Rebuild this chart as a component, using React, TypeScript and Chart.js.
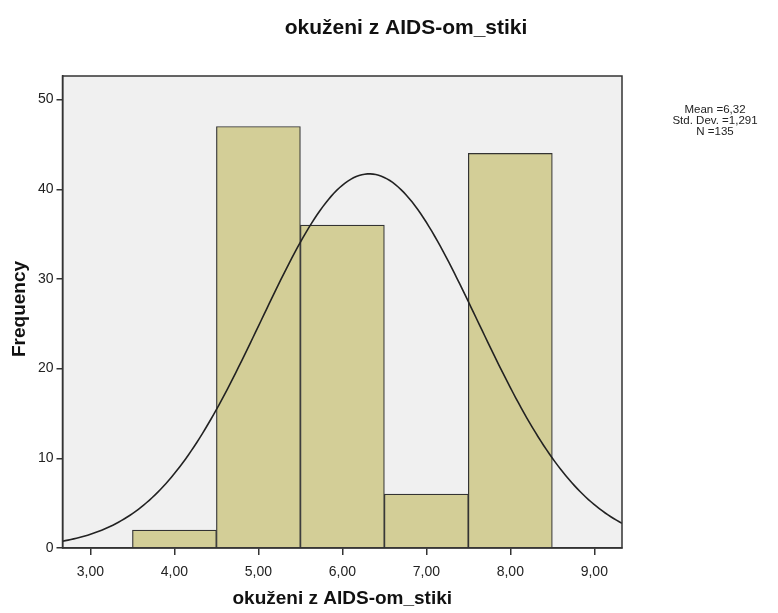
import React, { useEffect, useRef } from "react";
import { Chart, registerables } from "chart.js";

Chart.register(...registerables);

const chartTitle = "okuženi z AIDS-om_stiki";
const xAxisTitle = "okuženi z AIDS-om_stiki";
const yAxisTitle = "Frequency";
const binCenters = [4, 5, 6, 7, 8];
const frequencies = [2, 47, 36, 6, 44];
const xTicks = [3, 4, 5, 6, 7, 8, 9];
const yTicks = [0, 10, 20, 30, 40, 50];
const statsMean = 6.32;
const statsSd = 1.291;
const statsN = 135;
const statsLines = ["Mean =6,32", "Std. Dev. =1,291", "N =135"];
const xMin = 2.667;
const xMax = 9.33;
const yMax = 52.63;

const FONT = "'Liberation Sans', Arial, sans-serif";

function normalCurve() {
  const pts: { x: number; y: number }[] = [];
  const k = statsN / (statsSd * Math.sqrt(2 * Math.PI));
  for (let i = 0; i <= 200; i++) {
    const x = xMin + ((xMax - xMin) * i) / 200;
    const z = (x - statsMean) / statsSd;
    pts.push({ x, y: k * Math.exp(-0.5 * z * z) });
  }
  return pts;
}

const decorPlugin = {
  id: "decor",
  beforeDraw(chart: any) {
    const { ctx, chartArea: a, width, height } = chart;
    ctx.save();
    ctx.fillStyle = "#ffffff";
    ctx.fillRect(0, 0, width, height);
    ctx.fillStyle = "#f0f0f0";
    ctx.fillRect(a.left, a.top, a.right - a.left, a.bottom - a.top);
    ctx.restore();
  },
  afterDraw(chart: any) {
    const { ctx, chartArea: a } = chart;
    ctx.save();
    ctx.strokeStyle = "#333333";
    ctx.lineWidth = 1.5;
    ctx.strokeRect(a.left, a.top, a.right - a.left, a.bottom - a.top);
    ctx.fillStyle = "#111111";
    ctx.textAlign = "center";
    ctx.textBaseline = "middle";
    ctx.font = `bold 21px ${FONT}`;
    ctx.fillText(chartTitle, 406, 28);
    ctx.font = `bold 19px ${FONT}`;
    ctx.fillText(xAxisTitle, (a.left + a.right) / 2, 599);
    ctx.save();
    ctx.translate(20, 309);
    ctx.rotate(-Math.PI / 2);
    ctx.fillText(yAxisTitle, 0, 0);
    ctx.restore();
    ctx.font = `11.5px ${FONT}`;
    ctx.fillStyle = "#222222";
    statsLines.forEach((s, i) => ctx.fillText(s, 715, 110 + i * 11));
    ctx.restore();
  },
};

export default function App() {
  const ref = useRef<HTMLCanvasElement>(null);
  useEffect(() => {
    if (!ref.current) return;
    const chart = new Chart(ref.current, {
      type: "bar",
      data: {
        datasets: [
          {
            type: "line",
            data: normalCurve(),
            borderColor: "#222222",
            borderWidth: 1.6,
            pointRadius: 0,
            fill: false,
            tension: 0,
            order: 0,
          } as any,
          {
            type: "bar",
            data: binCenters.map((x, i) => ({ x, y: frequencies[i] })),
            backgroundColor: "#d3ce97",
            borderColor: "#333333",
            borderWidth: 1.2,
            barPercentage: 1,
            categoryPercentage: 1,
            order: 1,
          } as any,
        ],
      },
      plugins: [decorPlugin],
      options: {
        animation: false,
        responsive: false,
        layout: { padding: { left: 0, top: 76, right: 156, bottom: 0 } },
        plugins: { legend: { display: false }, tooltip: { enabled: false }, title: { display: false } },
        scales: {
          x: {
            type: "linear",
            min: xMin,
            max: xMax,
            offset: false,
            afterBuildTicks: (s: any) => {
              s.ticks = xTicks.map((v) => ({ value: v }));
            },
            afterFit: (s: any) => {
              s.height = 65;
            },
            grid: { drawOnChartArea: false, drawTicks: true, tickLength: 7, color: "#333333", offset: false, lineWidth: 1.5 },
            border: { display: true, color: "#333333", width: 1.5 },
            ticks: {
              padding: 9,
              color: "#222222",
              font: { family: FONT, size: 14 },
              maxRotation: 0,
              callback: (v: any) => Number(v).toFixed(2).replace(".", ","),
            },
          },
          y: {
            type: "linear",
            min: 0,
            max: yMax,
            afterBuildTicks: (s: any) => {
              s.ticks = yTicks.map((v) => ({ value: v }));
            },
            afterFit: (s: any) => {
              s.width = 62.5;
            },
            grid: { drawOnChartArea: false, drawTicks: true, tickLength: 6, color: "#333333", lineWidth: 1.5 },
            border: { display: true, color: "#333333", width: 1.5 },
            ticks: {
              padding: 3,
              color: "#222222",
              font: { family: FONT, size: 14 },
              callback: (v: any) => String(v),
            },
          },
        },
      },
    });
    return () => chart.destroy();
  }, []);
  return (
    <div style={{ position: "fixed", left: 0, top: 0, width: 778, height: 613, background: "#fff" }}>
      <canvas ref={ref} width={778} height={613} style={{ width: 778, height: 613, display: "block" }} />
    </div>
  );
}
